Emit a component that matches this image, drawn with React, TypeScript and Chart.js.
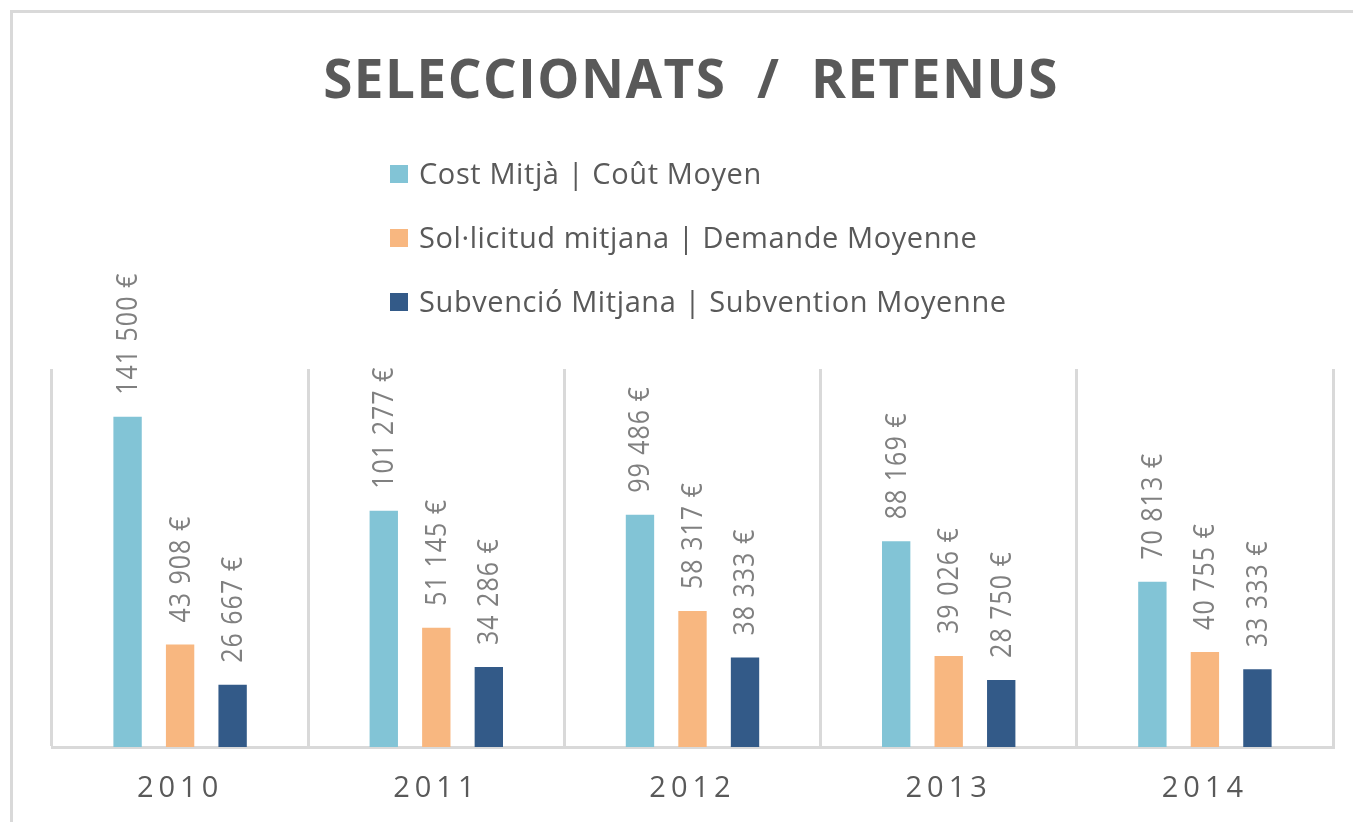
import React, { useEffect, useRef } from "react";
import { Chart, registerables } from "chart.js";

Chart.register(...registerables);

const categories = ["2010", "2011", "2012", "2013", "2014"];
const costMitja = [141500, 101277, 99486, 88169, 70813];
const solicitudMitjana = [43908, 51145, 58317, 39026, 40755];
const subvencioMitjana = [26667, 34286, 38333, 28750, 33333];
const seriesLabels = [
  "Cost Mitjà | Coût Moyen",
  "Sol·licitud mitjana | Demande Moyenne",
  "Subvenció Mitjana | Subvention Moyenne",
];
const seriesColors = ["#82C4D6", "#F8B780", "#335A88"];
const titleText = "SELECCIONATS  /  RETENUS";
const yMax = 162000;

const fmt = (n: number) =>
  n.toString().replace(/\B(?=(\d{3})+(?!\d))/g, " ") + " €";

const FONT = '"Open Sans", "Noto Sans", sans-serif';

const decorPlugin = {
  id: "decor",
  beforeDraw(chart: any) {
    const ctx = chart.ctx as CanvasRenderingContext2D;
    ctx.save();
    ctx.fillStyle = "#ffffff";
    ctx.fillRect(0, 0, chart.width, chart.height);
    ctx.strokeStyle = "#d9d9d9";
    ctx.lineWidth = 3;
    ctx.strokeRect(11.5, 11.5, chart.width + 40, chart.height + 40);

    // title
    ctx.fillStyle = "#595959";
    ctx.font = `bold 53px ${FONT}`;
    (ctx as any).letterSpacing = "1.5px";
    ctx.textAlign = "center";
    ctx.textBaseline = "alphabetic";
    ctx.fillText(titleText, 691, 98);

    // legend
    (ctx as any).letterSpacing = "0.6px";
    ctx.font = `29px ${FONT}`;
    ctx.textAlign = "left";
    const rowsY = [174, 238, 302];
    chart.data.datasets.forEach((ds: any, i: number) => {
      const cy = rowsY[i];
      ctx.fillStyle = ds.backgroundColor;
      ctx.fillRect(390, cy - 9, 18, 18);
      ctx.fillStyle = "#595959";
      ctx.fillText(ds.label, 419, cy + 10);
    });
    ctx.restore();
    (ctx as any).letterSpacing = "5px";
  },
  beforeDatasetsDraw(chart: any) {
    (chart.ctx as any).letterSpacing = "0px";
  },
  afterDatasetsDraw(chart: any) {
    const ctx = chart.ctx as CanvasRenderingContext2D;
    ctx.save();
    (ctx as any).letterSpacing = "1px";
    ctx.fillStyle = "#808080";
    ctx.font = `25px ${FONT}`;
    ctx.textAlign = "left";
    ctx.textBaseline = "middle";
    chart.data.datasets.forEach((ds: any, i: number) => {
      const meta = chart.getDatasetMeta(i);
      meta.data.forEach((bar: any, j: number) => {
        ctx.save();
        ctx.translate(bar.x + 1, bar.y - 22);
        ctx.rotate(-Math.PI / 2);
        ctx.scale(1, 1.18);
        ctx.fillText(fmt(ds.data[j]), 0, 0);
        ctx.restore();
      });
    });
    ctx.restore();
  },
};

export default function App() {
  const ref = useRef<HTMLCanvasElement | null>(null);
  useEffect(() => {
    if (!ref.current) return;
    const chart = new Chart(ref.current, {
      type: "bar",
      data: {
        labels: categories,
        datasets: [costMitja, solicitudMitjana, subvencioMitjana].map(
          (d, i) => ({
            label: seriesLabels[i],
            data: d,
            backgroundColor: seriesColors[i],
            borderWidth: 0,
            categoryPercentage: 0.615,
            barPercentage: 0.54,
          })
        ),
      },
      options: {
        animation: false,
        responsive: true,
        maintainAspectRatio: false,
        layout: { padding: { left: 52, right: 20, top: 369, bottom: 0 } },
        plugins: {
          legend: { display: false },
          title: { display: false },
          tooltip: { enabled: false },
        },
        scales: {
          x: {
            grid: {
              display: true,
              offset: true,
              color: "#d9d9d9",
              lineWidth: 3,
              drawTicks: false,
            },
            border: { display: true, color: "#d9d9d9", width: 3 },
            ticks: {
              color: "#595959",
              font: { family: FONT, size: 29 },
              padding: 24,
              maxRotation: 0,
            },
            afterFit: (scale: any) => {
              scale.height = 75;
            },
          },
          y: {
            display: false,
            min: 0,
            max: yMax,
          },
        },
      },
      plugins: [decorPlugin],
    });
    return () => chart.destroy();
  }, []);
  return (
    <div
      style={{
        position: "fixed",
        left: 0,
        top: 0,
        width: 1353,
        height: 822,
      }}
    >
      <canvas ref={ref} />
    </div>
  );
}
